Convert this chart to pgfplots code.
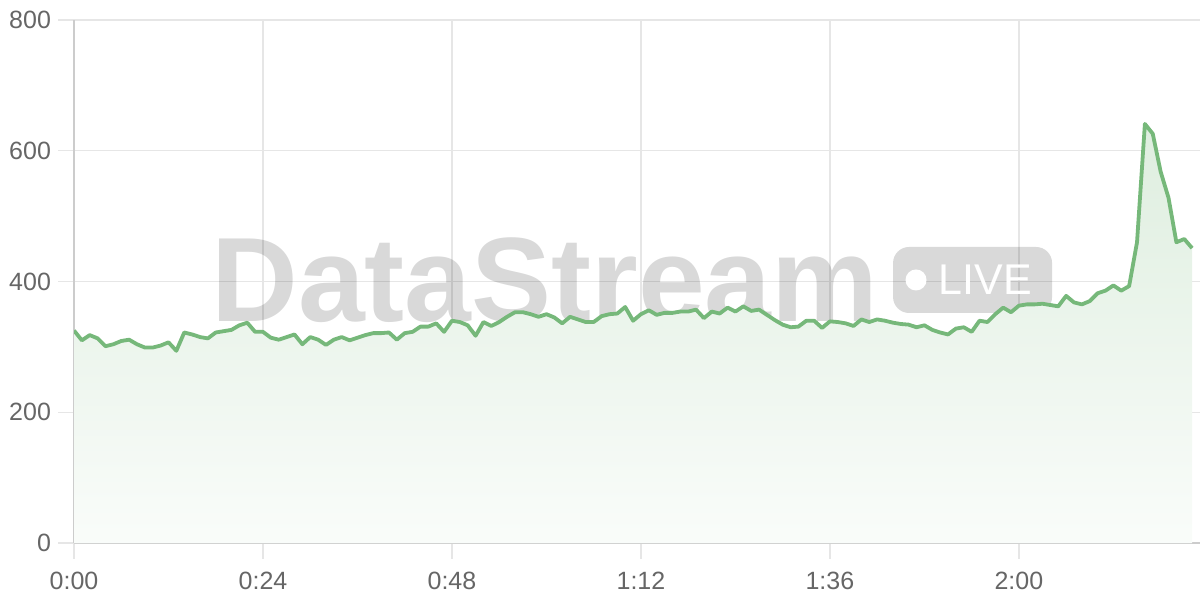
\documentclass[border=0pt]{standalone}
\usepackage{fontspec}
\setmainfont{Liberation Sans}
\usepackage{pgfplots}
\usepackage{pgfplotstable}
\pgfplotsset{compat=1.18}
\definecolor{linegreen}{HTML}{76B87A}
\definecolor{gridgray}{HTML}{E6E6E6}
\definecolor{axisgray}{HTML}{CCCCCC}
\definecolor{labelgray}{HTML}{666666}

\pgfplotstableread{
x y
0 325
1 310
2 318
3 313
4 301
5 304
6 309
7 311
8 304
9 299
10 299
11 302
12 307
13 294
14 322
15 319
16 315
17 313
18 322
19 324
20 326
21 333
22 337
23 323
24 323
25 314
26 311
27 315
28 319
29 304
30 315
31 311
32 303
33 311
34 315
35 310
36 314
37 318
38 321
39 321
40 322
41 311
42 321
43 323
44 331
45 331
46 336
47 323
48 340
49 338
50 333
51 317
52 338
53 332
54 338
55 346
56 353
57 353
58 350
59 346
60 350
61 345
62 336
63 346
64 342
65 338
66 338
67 347
68 350
69 351
70 361
71 340
72 350
73 356
74 349
75 352
76 352
77 354
78 354
79 357
80 344
81 354
82 351
83 360
84 354
85 362
86 355
87 357
88 349
89 341
90 334
91 330
92 331
93 340
94 340
95 329
96 339
97 338
98 336
99 332
100 342
101 338
102 342
103 340
104 337
105 335
106 334
107 330
108 333
109 326
110 322
111 319
112 328
113 330
114 323
115 340
116 338
117 350
118 360
119 353
120 363
121 365
122 365
123 366
124 364
125 362
126 378
127 368
128 365
129 370
130 382
131 386
132 394
133 386
134 393
135 460
136 641
137 626
138 568
139 528
140 460
141 465
142 451
}\datatable

\begin{document}
\begin{tikzpicture}
\begin{axis}[
  scale only axis, width=563pt, height=261.5pt,
  xmin=0, xmax=143, ymin=0, ymax=800,
  axis x line*=bottom, axis y line*=left,
  axis line style={axisgray, line width=0.7pt},
  xtick={0,24,48,72,96,120},
  xticklabels={0:00,0:24,0:48,1:12,1:36,2:00},
  ytick={0,200,400,600,800},
  grid=major,
  major grid style={gridgray, line width=0.6pt},
  tick align=outside,
  major tick length=8pt,
  tick style={gridgray, line width=0.6pt},
  ticklabel style={font=\fontsize{12.5}{14}\selectfont, text=labelgray},
  xticklabel style={yshift=-3pt},
  /pgf/number format/assume math mode=true,
]
\node[anchor=base, text=black, text opacity=0.15, font=\fontsize{60}{60}\selectfont\bfseries] at (rel axis cs:0.4183,0.4226) {DataStream};
\node[fill=black, fill opacity=0.15, rounded corners=8pt, minimum width=79.5pt, minimum height=33pt, inner sep=0pt] at (rel axis cs:0.798,0.5029) {};
\fill[white] (rel axis cs:0.7478,0.5029) circle[radius=5.25pt];
\node[anchor=base, text=white, font=\fontsize{21.5}{21.5}\selectfont] at (rel axis cs:0.8095,0.4742) {LIVE};
\addplot[draw=none, top color=linegreen!24!white, bottom color=linegreen!4!white] table {\datatable} \closedcycle;
\addplot[linegreen, line width=1.9pt, line join=round, mark=none] table {\datatable};
\end{axis}
\pgfresetboundingbox
\path[use as bounding box] ([xshift=-37pt,yshift=-28.5pt]current axis.south west) rectangle ([yshift=10pt]current axis.north east);
\end{tikzpicture}
\end{document}
